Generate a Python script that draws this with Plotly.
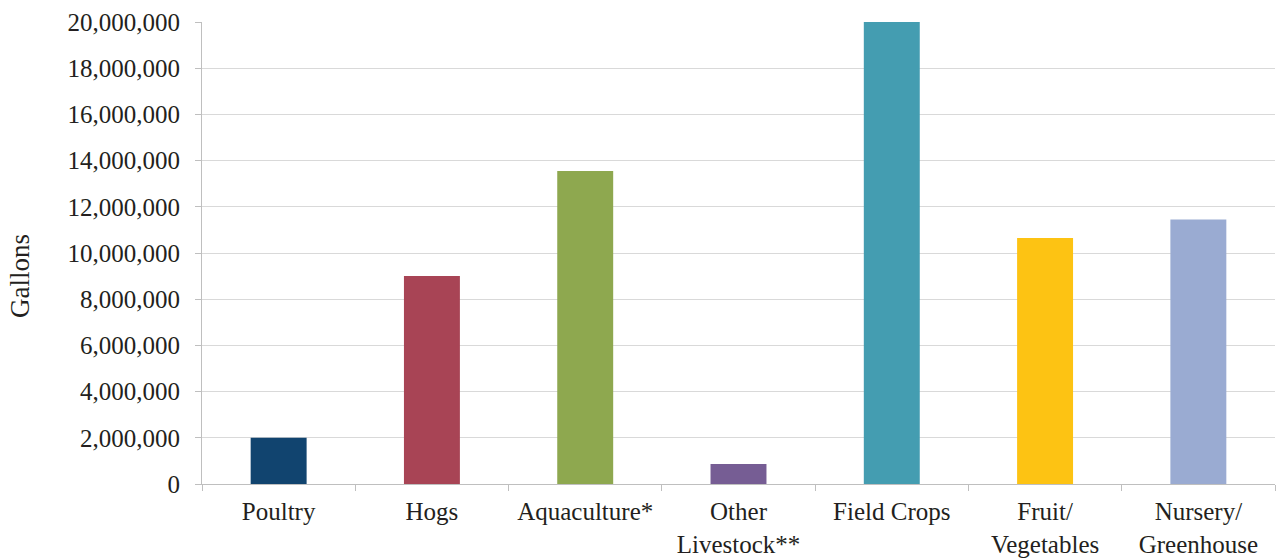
import plotly.graph_objects as go

categories = ["Poultry", "Hogs", "Aquaculture*", "Other<br>Livestock**", "Field Crops",
              "Fruit/<br>Vegetables", "Nursery/<br>Greenhouse"]
gallons = [2000000, 9000000, 13550000, 870000, 20000000, 10650000, 11450000]
colors = ["#11446f", "#a84455", "#8ea84f", "#765d94", "#449db1", "#fdc313", "#9aabd2"]
tick_vals = list(range(0, 20000001, 2000000))
tick_text = [f"{v:,}" for v in tick_vals]

FONT = "Liberation Serif"
TXT = "#231f20"

fig = go.Figure(go.Bar(x=categories, y=gallons, marker=dict(color=colors, line=dict(width=0)),
                       width=0.365))

fig.update_layout(
    width=1278, height=559,
    margin=dict(l=202, r=3, t=22, b=75),
    plot_bgcolor="white", paper_bgcolor="white",
    font=dict(family=FONT, size=25, color=TXT),
    showlegend=False,
    bargap=0.635,
)
fig.update_xaxes(
    showline=True, linecolor="#bfbfbf", linewidth=1,
    ticks="outside", tickson="boundaries", ticklen=6, tickcolor="#bfbfbf",
    tickfont=dict(family=FONT, size=25, color=TXT),
    showgrid=False, automargin=False,
    ticklabelstandoff=5,
)
fig.update_yaxes(
    range=[0, 20000000], tickvals=tick_vals, ticktext=tick_text,
    showline=True, linecolor="#bfbfbf", linewidth=1,
    ticks="outside", ticklen=6, tickcolor="#bfbfbf",
    showgrid=True, gridcolor="#d9d9d9", gridwidth=1,
    zeroline=False, automargin=False,
    tickfont=dict(family=FONT, size=25, color=TXT),
    ticklabelstandoff=10,
)
fig.add_annotation(text="Gallons", textangle=-90, xref="paper", yref="paper",
                   x=(20 - 202) / 1073, y=0.45, xanchor="center", yanchor="middle",
                   showarrow=False, font=dict(family=FONT, size=27, color=TXT))

fig.write_html("out.html")
